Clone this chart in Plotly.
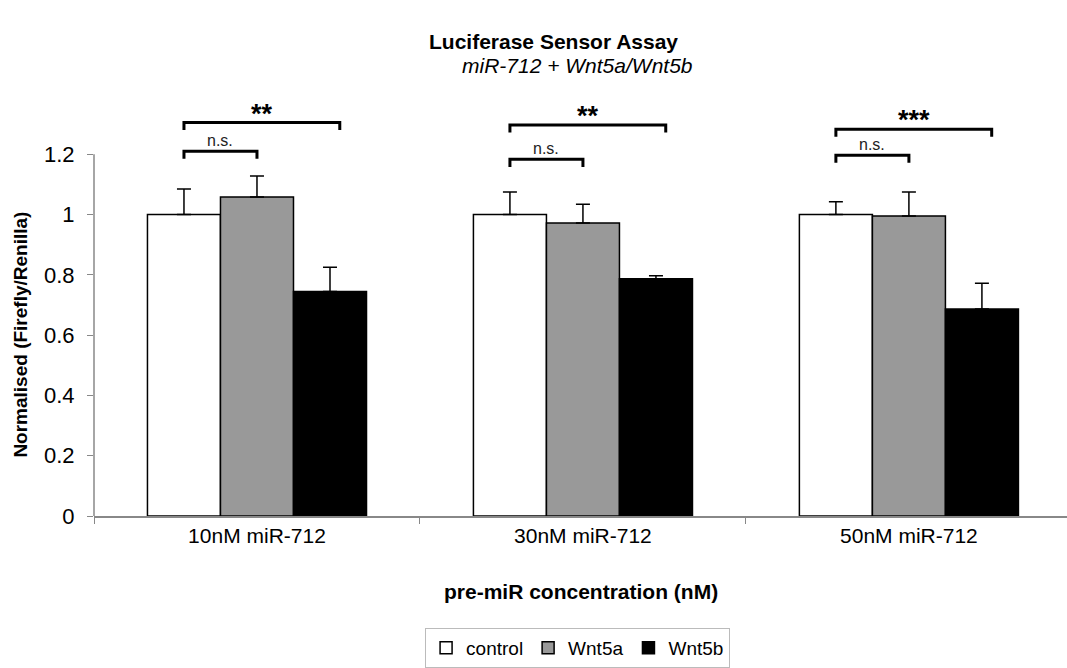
import plotly.graph_objects as go

categories = ["10nM miR-712", "30nM miR-712", "50nM miR-712"]
series_names = ["control", "Wnt5a", "Wnt5b"]
control_vals = [1.0, 1.0, 1.0]
wnt5a_vals = [1.058, 0.972, 0.995]
wnt5b_vals = [0.745, 0.787, 0.687]
control_err = [0.085, 0.075, 0.042]
wnt5a_err = [0.07, 0.062, 0.08]
wnt5b_err = [0.08, 0.01, 0.085]
ns_level = [1.21, 1.183, 1.197]
sig_level = [1.305, 1.297, 1.283]
sig_labels = ["**", "**", "***"]
ns_label = "n.s."

colors = ["#ffffff", "#999999", "#000000"]
FONT = "Liberation Sans, Arial, sans-serif"
BW = 0.224
xs = list(range(len(categories)))

fig = go.Figure()
vals = [control_vals, wnt5a_vals, wnt5b_vals]
errs = [control_err, wnt5a_err, wnt5b_err]
for i, name in enumerate(series_names):
    fig.add_trace(go.Bar(
        x=xs, y=vals[i], name=name, width=BW, offset=(i - 1.5) * BW,
        marker=dict(color=colors[i], line=dict(color="#000000", width=1.5)),
        error_y=dict(type="data", symmetric=False, array=errs[i],
                     arrayminus=[0] * len(xs), color="#000000",
                     thickness=1.5, width=7),
    ))

tick_drop = 0.025
for g in xs:
    xc = g - BW
    xa = g
    xb = g + BW + 0.03
    fig.add_trace(go.Scatter(
        x=[xc, xc, xa, xa], y=[ns_level[g] - tick_drop, ns_level[g], ns_level[g], ns_level[g] - tick_drop],
        mode="lines", line=dict(color="#000000", width=3), showlegend=False, hoverinfo="skip"))
    fig.add_trace(go.Scatter(
        x=[xc, xc, xb, xb], y=[sig_level[g] - tick_drop, sig_level[g], sig_level[g], sig_level[g] - tick_drop],
        mode="lines", line=dict(color="#000000", width=3), showlegend=False, hoverinfo="skip"))
    fig.add_annotation(x=(xc + xa) / 2, y=ns_level[g], yanchor="bottom", text=ns_label,
                       showarrow=False, font=dict(family=FONT, size=16, color="#222"), yshift=0)
    fig.add_annotation(x=(xc + xb) / 2, y=sig_level[g], yanchor="bottom", text="<b>" + sig_labels[g] + "</b>",
                       showarrow=False, font=dict(family=FONT, size=27, color="#000"), yshift=-8)

fig.add_shape(type="line", xref="paper", x0=0, x1=0, yref="y", y0=0, y1=1.2,
              line=dict(color="#888888", width=1.5))

fig.add_annotation(xref="paper", x=0, xshift=-86, yref="y", y=0.6, text="<b>Normalised (Firefly/Renilla)</b>",
                   textangle=-90, showarrow=False, font=dict(family=FONT, size=19, color="#000"))
fig.add_annotation(xref="paper", x=0.5, yref="paper", y=-0.185, yanchor="middle",
                   text="<b>pre-miR concentration (nM)</b>",
                   showarrow=False, font=dict(family=FONT, size=21, color="#000"))
fig.add_annotation(xref="paper", x=0.472, yref="paper", y=1.158, yanchor="middle",
                   text="<b>Luciferase Sensor Assay</b>", showarrow=False,
                   font=dict(family=FONT, size=21, color="#000"))
fig.add_annotation(xref="paper", x=0.497, yref="paper", y=1.098, yanchor="middle",
                   text="<i>miR-712 + Wnt5a/Wnt5b</i>", showarrow=False,
                   font=dict(family=FONT, size=21, color="#000"))

fig.update_layout(
    width=1067, height=668,
    margin=dict(l=94, r=0, t=106, b=152, autoexpand=False),
    paper_bgcolor="white", plot_bgcolor="white",
    barmode="overlay",
    font=dict(family=FONT, size=18, color="#000"),
    legend=dict(orientation="h", x=0.497, xanchor="center", y=-0.273, yanchor="top",
                bordercolor="#bbbbbb", borderwidth=1, font=dict(size=19), itemwidth=30,
                traceorder="normal"),
    xaxis=dict(range=[-0.5, 2.485], tickmode="array", tickvals=xs, ticktext=categories,
               showline=True, linecolor="#888888", linewidth=1.5, ticks="", showgrid=False,
               zeroline=False, tickfont=dict(size=21), automargin=False,
               minor=dict(tickvals=[-0.5, 0.5, 1.5, 2.5], ticks="outside", ticklen=6,
                          tickcolor="#888888", tickwidth=1, showgrid=False)),
    yaxis=dict(range=[0, 1.36], tickmode="array", tickvals=[0, 0.2, 0.4, 0.6, 0.8, 1, 1.2],
               ticktext=["0", "0.2", "0.4", "0.6", "0.8", "1", "1.2"],
               showline=False, ticks="outside", ticklen=6, tickcolor="#888888",
               ticklabelstandoff=8,
               showgrid=False, zeroline=False, tickfont=dict(size=22), automargin=False),
)

fig.write_html("out.html", config={"displayModeBar": False},
               post_script="document.body.style.margin='0';document.body.style.overflow='hidden';")
